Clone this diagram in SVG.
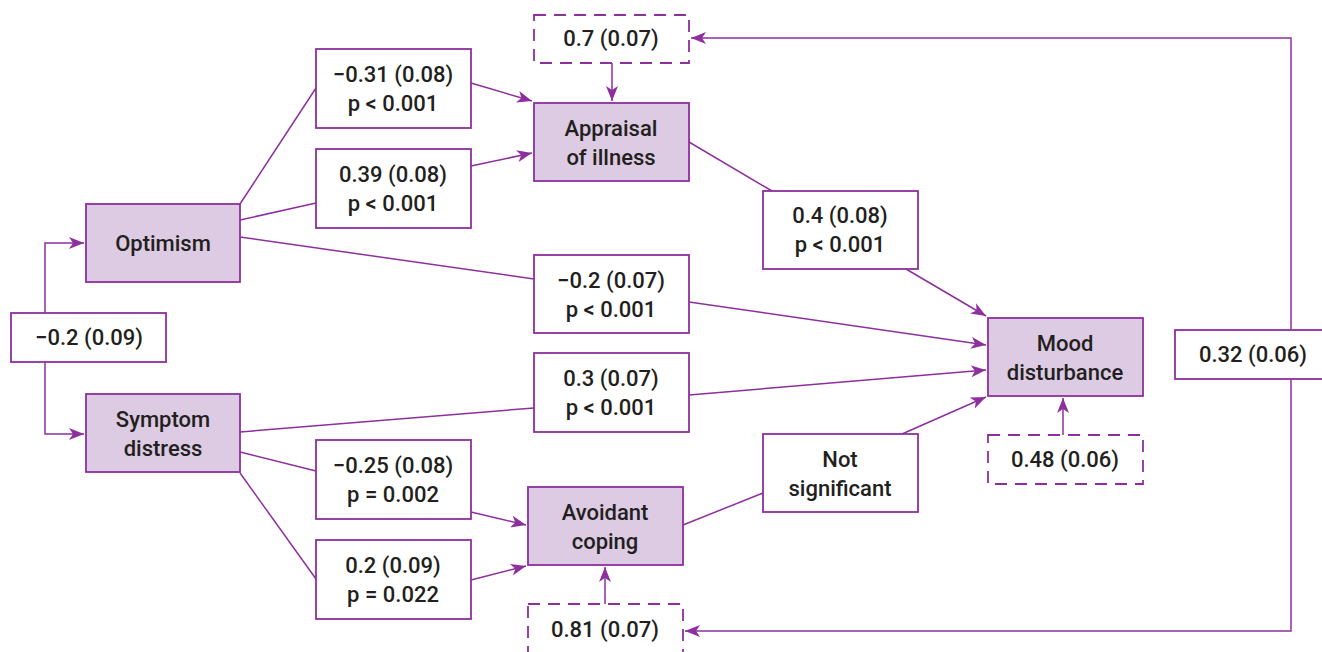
<svg xmlns="http://www.w3.org/2000/svg" width="1322" height="652" viewBox="0 0 1322 652">
<defs>
<marker id="ah" markerUnits="userSpaceOnUse" markerWidth="16" markerHeight="12" refX="15" refY="6" orient="auto-start-reverse">
<path d="M0,0 L15,6 L0,12 L4,6 z" fill="#8e2f9e"/>
</marker>
<style>
.c{fill:none;stroke:#8e2f9e;stroke-width:1.5}
.n{fill:#dccbe3;stroke:#8e2f9e;stroke-width:1.8}
.b{fill:#ffffff;stroke:#8e2f9e;stroke-width:1.8}
.d{fill:#ffffff;stroke:#8e2f9e;stroke-width:1.8;stroke-dasharray:12 8}
text{font-family:Roboto,"Liberation Sans",Arial,sans-serif;font-size:22px;font-weight:500;fill:#231f20;text-anchor:middle}
</style>
</defs>
<g id="connectors">
<path class="c" d="M84,243 H45 V434 H84" marker-start="url(#ah)" marker-end="url(#ah)"/>
<path class="c" d="M240,204 L316,88"/>
<path class="c" d="M240,220 L316,203"/>
<path class="c" d="M471,83 L532,101" marker-end="url(#ah)"/>
<path class="c" d="M471,166 L532,153" marker-end="url(#ah)"/>
<path class="c" d="M240,237 L534,279"/>
<path class="c" d="M689,302 L986,345" marker-end="url(#ah)"/>
<path class="c" d="M240,432 L534,408"/>
<path class="c" d="M689,395 L986,370" marker-end="url(#ah)"/>
<path class="c" d="M240,452 L316,471"/>
<path class="c" d="M471,512 L526,525" marker-end="url(#ah)"/>
<path class="c" d="M240,473 L316,579"/>
<path class="c" d="M471,580 L526,566" marker-end="url(#ah)"/>
<path class="c" d="M689,142 L772,191"/>
<path class="c" d="M906,269 L986,316" marker-end="url(#ah)"/>
<path class="c" d="M683,525 L763,493"/>
<path class="c" d="M902,434 L986,397" marker-end="url(#ah)"/>
<path class="c" d="M612,63 V101" marker-end="url(#ah)"/>
<path class="c" d="M605,604 V567" marker-end="url(#ah)"/>
<path class="c" d="M1063,435 V398" marker-end="url(#ah)"/>
<path class="c" d="M691,38 H1291 V631 H685" marker-start="url(#ah)" marker-end="url(#ah)"/>
</g>
<g id="optimism">
<rect class="n" x="86" y="204" width="154" height="78"/>
<text x="163" y="251">Optimism</text>
</g>
<g id="symptom-distress">
<rect class="n" x="86" y="394" width="154" height="78"/>
<text x="163" y="427">Symptom</text>
<text x="163" y="456">distress</text>
</g>
<g id="appraisal">
<rect class="n" x="534" y="103" width="155" height="78"/>
<text x="611" y="136">Appraisal</text>
<text x="611" y="165">of illness</text>
</g>
<g id="avoidant-coping">
<rect class="n" x="528" y="487" width="155" height="78"/>
<text x="605" y="520">Avoidant</text>
<text x="605" y="549">coping</text>
</g>
<g id="mood-disturbance">
<rect class="n" x="988" y="318" width="155" height="78"/>
<text x="1065" y="351">Mood</text>
<text x="1065" y="380">disturbance</text>
</g>
<g id="lbl-opt-sym">
<rect class="b" x="11" y="313" width="155" height="49"/>
<text x="89" y="345">−0.2 (0.09)</text>
</g>
<g id="lbl-opt-app1">
<rect class="b" x="316" y="49" width="155" height="79"/>
<text x="393" y="82">−0.31 (0.08)</text>
<text x="393" y="111">p &lt; 0.001</text>
</g>
<g id="lbl-opt-app2">
<rect class="b" x="316" y="149" width="155" height="79"/>
<text x="393" y="182">0.39 (0.08)</text>
<text x="393" y="211">p &lt; 0.001</text>
</g>
<g id="res-appraisal">
<rect class="d" x="534" y="15" width="155" height="48"/>
<text x="611" y="46">0.7 (0.07)</text>
</g>
<g id="lbl-app-mood">
<rect class="b" x="763" y="191" width="155" height="78"/>
<text x="840" y="223">0.4 (0.08)</text>
<text x="840" y="252">p &lt; 0.001</text>
</g>
<g id="lbl-opt-mood">
<rect class="b" x="534" y="255" width="155" height="78"/>
<text x="611" y="288">−0.2 (0.07)</text>
<text x="611" y="317">p &lt; 0.001</text>
</g>
<g id="lbl-sym-mood">
<rect class="b" x="534" y="353" width="155" height="79"/>
<text x="611" y="386">0.3 (0.07)</text>
<text x="611" y="415">p &lt; 0.001</text>
</g>
<g id="lbl-avo-mood">
<rect class="b" x="763" y="434" width="155" height="78"/>
<text x="840" y="467">Not</text>
<text x="840" y="496">significant</text>
</g>
<g id="lbl-sym-avo1">
<rect class="b" x="316" y="440" width="155" height="79"/>
<text x="393" y="473">−0.25 (0.08)</text>
<text x="393" y="502">p = 0.002</text>
</g>
<g id="lbl-sym-avo2">
<rect class="b" x="316" y="540" width="155" height="79"/>
<text x="393" y="573">0.2 (0.09)</text>
<text x="393" y="602">p = 0.022</text>
</g>
<g id="res-avoidant">
<rect class="d" x="528" y="604" width="155" height="52"/>
<text x="605" y="637">0.81 (0.07)</text>
</g>
<g id="res-mood">
<rect class="d" x="988" y="435" width="155" height="49"/>
<text x="1065" y="467">0.48 (0.06)</text>
</g>
<g id="lbl-residual-cov">
<rect class="b" x="1175" y="330" width="158" height="49"/>
<text x="1253" y="362">0.32 (0.06)</text>
</g>
</svg>
